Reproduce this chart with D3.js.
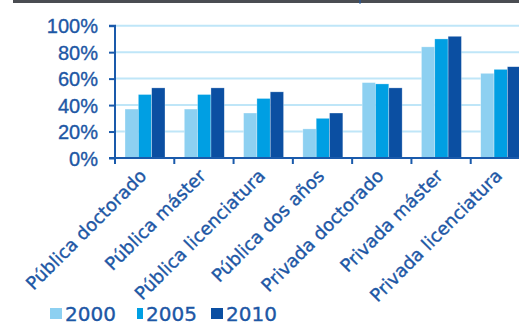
<!DOCTYPE html>
<html>
<head>
<meta charset="utf-8">
<script src="https://cdn.jsdelivr.net/npm/d3@7"></script>
<style>
  body { margin: 0; background: #fff; }
  svg { display: block; font-family: "DejaVu Sans", sans-serif; }
  .lbl { stroke: #1d57a5; stroke-width: 0.35px; }
</style>
</head>
<body>
<svg id="chart" width="519" height="334"></svg>
<script>
const categories = ["Pública doctorado", "Pública máster", "Pública licenciatura", "Pública dos años",
                    "Privada doctorado", "Privada máster", "Privada licenciatura"];
const years = ["2000", "2005", "2010"];
const v2000 = [37, 37, 34, 22, 57, 84, 64];
const v2005 = [48, 48, 45, 30, 56, 90, 67];
const v2010 = [53, 53, 50, 34, 53, 92, 69];
const yTicks = [0, 20, 40, 60, 80, 100];

const colors = ["#8dd0f1", "#009fe3", "#0b4fa2"];
const textColor = "#1d57a5";
const axisColor = "#1a5aab";

const svg = d3.select("#chart");

let x = d3.scaleBand().domain(categories).range([115, 530]);
let xi = d3.scaleBand().domain(years).range([10, 50]);
let y = d3.scaleLinear().domain([0, 100]).range([158, 25.7]);

// top rule
svg.append("line").attr("x1", 13).attr("x2", 519).attr("y1", 1.5).attr("y2", 1.5)
  .attr("stroke", "#4a4d52").attr("stroke-width", 3);
svg.append("line").attr("x1", 360).attr("x2", 360).attr("y1", 0).attr("y2", 4)
  .attr("stroke", axisColor).attr("stroke-width", 1);

// gridlines
svg.selectAll(".grid").data(yTicks.slice(1)).enter().append("line")
  .attr("x1", 115).attr("x2", 519)
  .attr("y1", d => y(d)).attr("y2", d => y(d))
  .attr("stroke", "#bfe6f8").attr("stroke-width", 2);

// bars
let series = [v2000, v2005, v2010];
series.forEach(function(vals, s) {
  svg.selectAll(".bar" + s).data(vals).enter().append("rect")
    .attr("x", (d, i) => x(categories[i]) + xi(years[s]))
    .attr("width", xi.bandwidth())
    .attr("y", d => y(d))
    .attr("height", d => y(0) - y(d))
    .attr("fill", colors[s])
    .attr("stroke", "rgba(255,255,255,0.5)")
    .attr("stroke-width", 0.6);
});

// y axis
let yAxis = svg.append("g").attr("transform", "translate(115,0)")
  .call(d3.axisLeft(y).tickValues(yTicks).tickFormat(d => d + "%").tickSize(6).tickPadding(11));
yAxis.select(".domain").attr("stroke", axisColor).attr("stroke-width", 2).attr("d", "M-6,25.7H0V158H-6");
yAxis.selectAll(".tick line").attr("stroke", axisColor).attr("stroke-width", 2);
yAxis.selectAll(".tick text").attr("class", "lbl").attr("fill", textColor)
  .style("font-size", "20px").attr("dy", "0.36em");

// x axis
let xAxis = svg.append("g").attr("transform", "translate(0,158)")
  .call(d3.axisBottom(x).tickSize(0).tickFormat(""));
xAxis.select(".domain").attr("stroke", axisColor).attr("stroke-width", 2).attr("d", "M115,0H519");
svg.selectAll(".xtick").data(categories.concat(["end"])).enter().append("line")
  .attr("x1", (d, i) => 115 + i * x.step()).attr("x2", (d, i) => 115 + i * x.step())
  .attr("y1", 158).attr("y2", 164)
  .attr("stroke", axisColor).attr("stroke-width", 2);

// category labels
svg.selectAll(".xlab").data(categories).enter().append("text")
  .attr("class", "lbl")
  .attr("transform", d => "translate(" + (x(d) + x.bandwidth() / 2 + 3) + ",177) rotate(-45)")
  .attr("text-anchor", "end")
  .attr("fill", textColor)
  .style("font-size", "18px")
  .text(d => d);

// legend
let legendX = [50, 137, 211];
let legendW = [12, 6, 12];
let legend = svg.selectAll(".leg").data(years).enter().append("g")
  .attr("transform", (d, i) => "translate(" + legendX[i] + ",308)");
legend.append("rect").attr("width", (d, i) => legendW[i]).attr("height", 11)
  .attr("fill", (d, i) => colors[i]);
legend.append("text").attr("class", "lbl")
  .attr("x", (d, i) => legendW[i] + 3).attr("y", 12.5)
  .attr("fill", textColor).style("font-size", "20px")
  .text(d => d);
</script>
</body>
</html>
